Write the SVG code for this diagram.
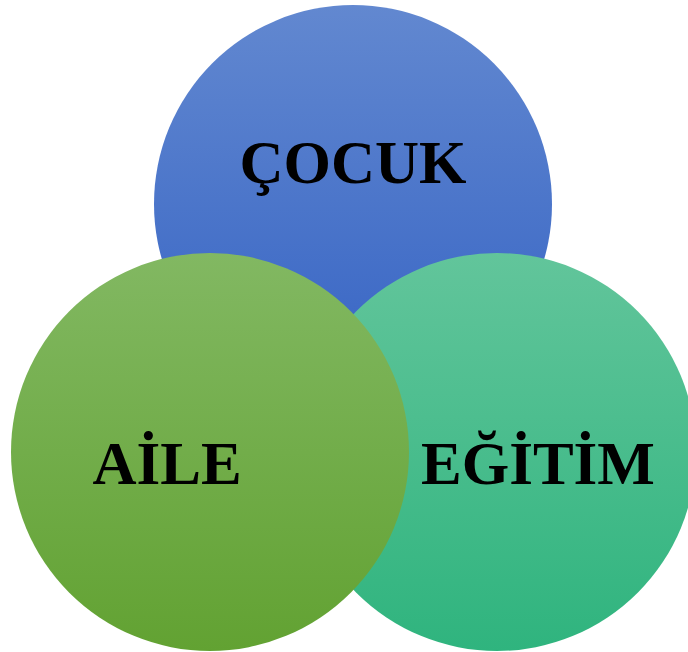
<svg xmlns="http://www.w3.org/2000/svg" width="688" height="652" viewBox="0 0 688 652">
<defs>
<linearGradient id="gb" x1="0" y1="0" x2="0" y2="1"><stop offset="0" stop-color="#6288d0"/><stop offset="1" stop-color="#3563c4"/></linearGradient>
<linearGradient id="gt" x1="0" y1="0" x2="0" y2="1"><stop offset="0" stop-color="#62c59b"/><stop offset="1" stop-color="#2fb47e"/></linearGradient>
<linearGradient id="gg" x1="0" y1="0" x2="0" y2="1"><stop offset="0" stop-color="#82b862"/><stop offset="1" stop-color="#62a232"/></linearGradient>
<style>.t{font-family:"Liberation Serif","Times New Roman",serif;font-weight:bold;font-size:61px;fill:#000;text-anchor:middle}</style>
</defs>
<rect width="688" height="652" fill="#fff"/>
<g id="cocuk"><circle cx="353" cy="204" r="199" fill="url(#gb)"/><text class="t" x="353" y="183">ÇOCUK</text></g>
<g id="egitim"><circle cx="497" cy="452" r="199" fill="url(#gt)"/><text class="t" x="538" y="484">EĞİTİM</text></g>
<g id="aile"><circle cx="210" cy="452" r="199" fill="url(#gg)"/><text class="t" x="167" y="484">AİLE</text></g>
<g id="connectors"/>
</svg>
